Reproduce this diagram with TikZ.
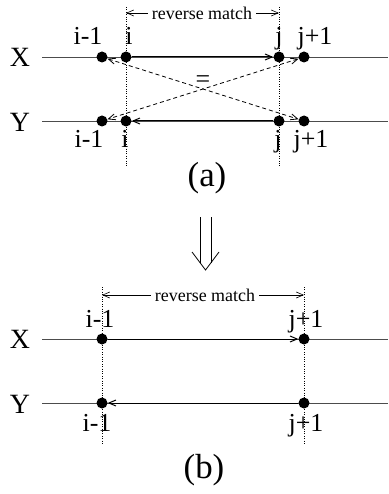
\documentclass[tikz,border=0pt]{standalone}
\usepackage{fontspec}
\setmainfont{Liberation Serif}
\usetikzlibrary{arrows.meta}
\tikzset{
  pt/.style={circle, fill=black, inner sep=0pt, minimum size=11bp},
  axislbl/.style={font=\fontsize{28}{30}\selectfont},
  idx/.style={font=\fontsize{26}{28}\selectfont, anchor=base, inner sep=0pt},
  rmtxt/.style={font=\fontsize{18}{20}\selectfont, inner sep=4bp},
  panellbl/.style={font=\fontsize{35}{37}\selectfont},
  seqline/.style={line width=0.8bp, black!70},
  guide/.style={line width=0.6bp, dash pattern=on 0.8bp off 1.6bp},
  flowarr/.style={line width=1bp, -{Straight Barb[length=7bp,width=6bp]}},
  swaparr/.style={line width=0.8bp, dash pattern=on 4bp off 3bp, {Straight Barb[length=7bp,width=6bp]}-{Straight Barb[length=7bp,width=6bp]}}
}

\begin{document}
\begin{tikzpicture}[x=1bp, y=-1bp]
\useasboundingbox (0,0) rectangle (388,494);

\draw[guide] (126,7) -- (126,167);
\draw[guide] (279,7) -- (279,167);
\node[rmtxt] (rma) at (202,13) {reverse match};
\coordinate (rmaL) at (126,13);
\coordinate (rmaR) at (279,13);
\draw[flowarr, line width=0.6bp] (rma) -- (rmaL);
\draw[flowarr, line width=0.6bp] (rma) -- (rmaR);

\node[axislbl] (xa) at (20,57) {X};
\node[axislbl] (ya) at (20,122) {Y};
\coordinate (xaL) at (42,57);
\coordinate (xaR) at (388,57);
\coordinate (yaL) at (42,121);
\coordinate (yaR) at (388,121);
\draw[seqline] (xaL) -- (xaR);
\draw[seqline] (yaL) -- (yaR);

\node[pt] (xa1) at (102,57) {};
\node[pt] (xa2) at (126,57) {};
\node[pt] (xa3) at (279,57) {};
\node[pt] (xa4) at (304,57) {};
\node[pt] (ya1) at (102,121) {};
\node[pt] (ya2) at (126,121) {};
\node[pt] (ya3) at (279,121) {};
\node[pt] (ya4) at (304,121) {};

\node[idx] at (88,45) {i-1};
\node[idx] at (129,45) {i};
\node[idx] at (279,45) {j};
\node[idx] at (315,45) {j+1};
\node[idx] at (89,148) {i-1};
\node[idx] at (125,148) {i};
\node[idx] at (278,148) {j};
\node[idx] at (311,148) {j+1};

\draw[flowarr] (xa2) -- (xa3);
\draw[flowarr] (ya3) -- (ya2);
\draw[swaparr] (xa1) -- (ya4);
\draw[swaparr] (xa4) -- (ya1);
\node[font=\fontsize{26}{28}\selectfont] (eq) at (203,82) {=};

\node[panellbl] (capa) at (207,178) {(a)};

\draw[line width=0.8bp] (200,217) -- (200,263) (211,217) -- (211,263);
\draw[line width=0.8bp] (192,252) -- (205.5,270) -- (219,252);

\draw[guide] (102,287) -- (102,445);
\draw[guide] (304,287) -- (304,445);
\node[rmtxt] (rmb) at (205,295) {reverse match};
\coordinate (rmbL) at (102,295);
\coordinate (rmbR) at (304,295);
\draw[flowarr, line width=0.6bp] (rmb) -- (rmbL);
\draw[flowarr, line width=0.6bp] (rmb) -- (rmbR);

\node[axislbl] (xb) at (20,339) {X};
\node[axislbl] (yb) at (20,404) {Y};
\coordinate (xbL) at (42,339);
\coordinate (xbR) at (388,339);
\coordinate (ybL) at (42,403);
\coordinate (ybR) at (388,403);
\draw[seqline] (xbL) -- (xbR);
\draw[seqline] (ybL) -- (ybR);

\node[pt] (xb1) at (102,339) {};
\node[pt] (xb2) at (304,339) {};
\node[pt] (yb1) at (102,403) {};
\node[pt] (yb2) at (304,403) {};

\node[idx] at (100,327) {i-1};
\node[idx] at (306,327) {j+1};
\node[idx] at (97,431) {i-1};
\node[idx] at (306,431) {j+1};

\draw[flowarr] (xb1) -- (xb2);
\draw[flowarr] (yb2) -- (yb1);

\node[panellbl] (capb) at (204,470) {(b)};
\end{tikzpicture}
\end{document}
